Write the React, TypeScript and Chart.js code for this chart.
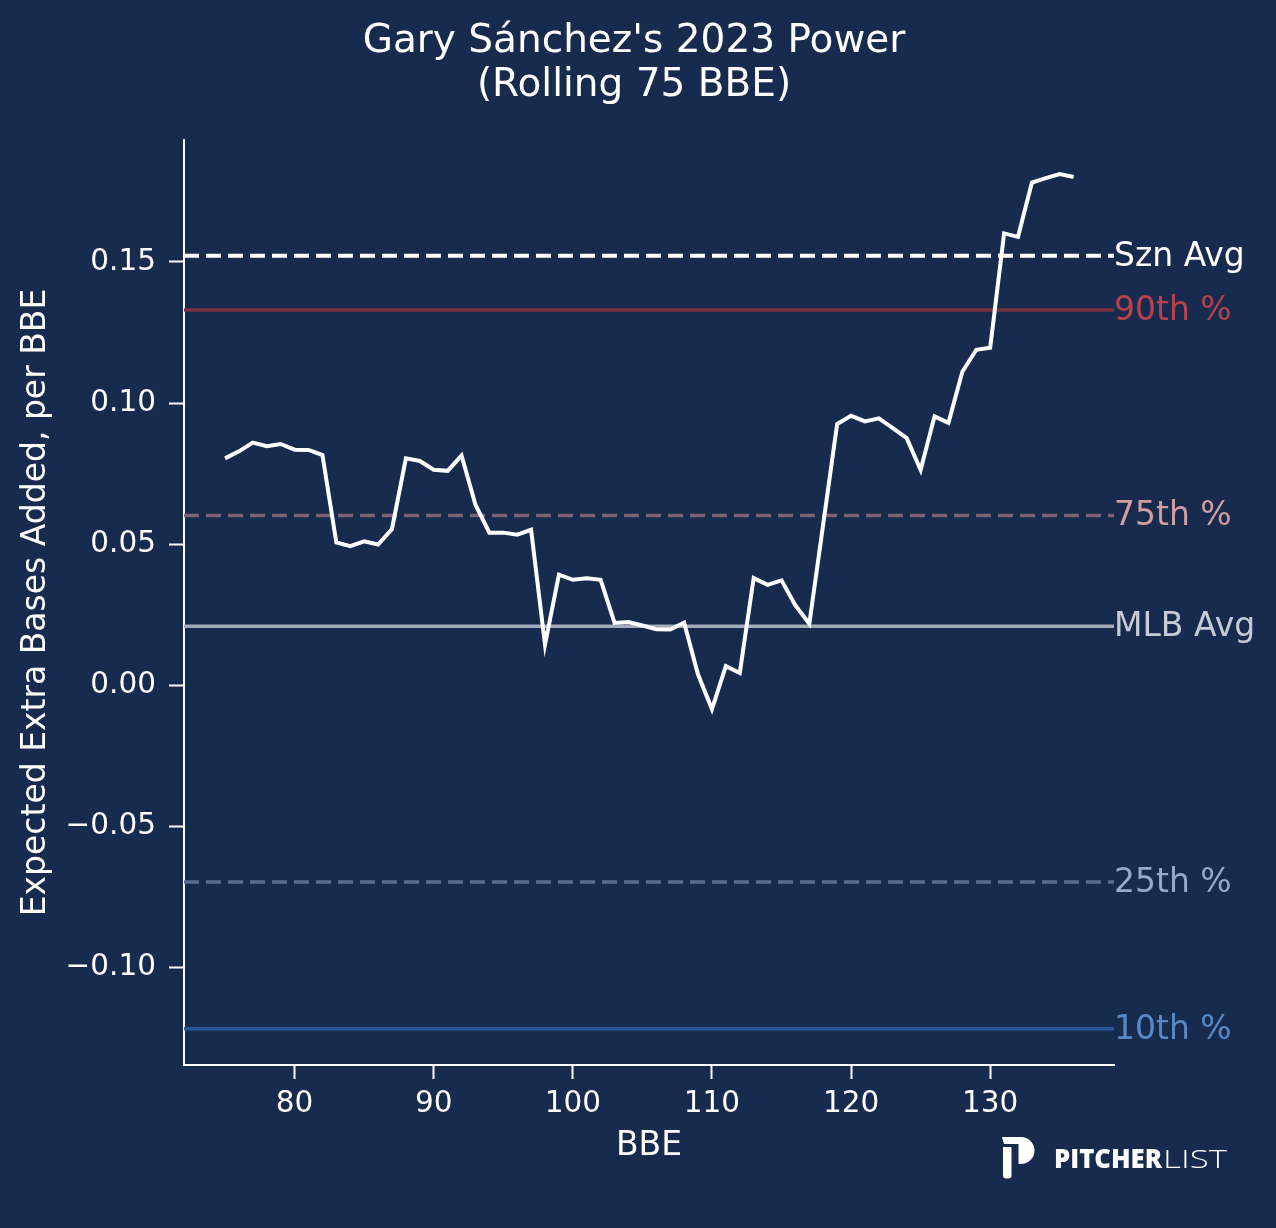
import React, { useEffect, useRef } from 'react';
import Chart from 'chart.js/auto';

const BG = '#172b4f';
const FONT = '"DejaVu Sans", sans-serif';

const titleLines = ["Gary Sánchez's 2023 Power", '(Rolling 75 BBE)'];
const xTitle = 'BBE';
const yTitle = 'Expected Extra Bases Added, per BBE';

const bbe = [
  75, 76, 77, 78, 79, 80, 81, 82, 83, 84, 85, 86, 87, 88, 89, 90, 91, 92, 93, 94, 95,
  96, 97, 98, 99, 100, 101, 102, 103, 104, 105, 106, 107, 108, 109, 110, 111, 112,
  113, 114, 115, 116, 117, 118, 119, 120, 121, 122, 123, 124, 125, 126, 127, 128,
  129, 130, 131, 132, 133, 134, 135, 136,
];
const xeba = [
  0.0804, 0.0829, 0.086, 0.0847, 0.0855, 0.0835, 0.0834, 0.0816, 0.0506, 0.0493, 0.051,
  0.0499, 0.0554, 0.0804, 0.0795, 0.0764, 0.076, 0.0814, 0.064, 0.0541, 0.0541, 0.0534,
  0.0551, 0.0144, 0.0392, 0.0374, 0.0379, 0.0374, 0.0221, 0.0224, 0.0212, 0.0199, 0.0198,
  0.0222, 0.0038, -0.0084, 0.0068, 0.0044, 0.038, 0.0356, 0.0372, 0.0283, 0.0218, 0.0572,
  0.0926, 0.0955, 0.0935, 0.0946, 0.0911, 0.0876, 0.0763, 0.0953, 0.093, 0.1111, 0.1189,
  0.1196, 0.1601, 0.1589, 0.1781, 0.1797, 0.1811, 0.1801,
];

const refLabels = ['Szn Avg', '90th %', '75th %', 'MLB Avg', '25th %', '10th %'];
const refValues = [0.1522, 0.133, 0.0602, 0.0209, -0.0697, -0.1217];
const refLineColors = ['#ffffff', '#7b3243', '#7d6273', '#a4aab7', '#5a6d90', '#2a5597'];
const refTextColors = ['#ffffff', '#b8414b', '#d39c9e', '#c6ccd7', '#98a9c7', '#5b88c3'];
const refDashed = [true, false, true, false, true, false];
const refWidths = [4, 3.5, 3.5, 3.5, 3.5, 3.5];

const xTicks = [80, 90, 100, 110, 120, 130];
const yTicks = [-0.1, -0.05, 0, 0.05, 0.1, 0.15];
const xRange = [72.05, 138.9];
const yRange = [-0.1345, 0.1932];

const fmtY = (v: number) => (v < 0 ? '\u2212' : '') + Math.abs(v).toFixed(2);

const decorPlugin = {
  id: 'decor',
  beforeDraw(chart: any) {
    const { ctx, width, height } = chart;
    ctx.save();
    ctx.fillStyle = BG;
    ctx.fillRect(0, 0, width, height);
    ctx.restore();
  },
  afterDraw(chart: any) {
    const { ctx, chartArea } = chart;
    const ys = chart.scales.y;
    ctx.save();
    // title
    ctx.fillStyle = '#ffffff';
    ctx.font = `39px ${FONT}`;
    ctx.textAlign = 'center';
    ctx.textBaseline = 'alphabetic';
    ctx.fillText(titleLines[0], 634, 52);
    ctx.fillText(titleLines[1], 634, 96);
    // reference labels
    ctx.font = `33px ${FONT}`;
    ctx.textAlign = 'left';
    refLabels.forEach((lab, i) => {
      ctx.fillStyle = refTextColors[i];
      ctx.fillText(lab, chartArea.right, ys.getPixelForValue(refValues[i]) + 10);
    });
    // logo icon
    ctx.fillStyle = '#ffffff';
    ctx.beginPath();
    ctx.moveTo(1002, 1137);
    ctx.lineTo(1021, 1137);
    ctx.arc(1021, 1150.5, 13.5, -Math.PI / 2, Math.PI / 2);
    ctx.lineTo(1018.5, 1164);
    ctx.lineTo(1018.5, 1144);
    ctx.lineTo(1004, 1144);
    ctx.closePath();
    ctx.fill();
    ctx.beginPath();
    (ctx as any).roundRect(1003, 1147, 8.5, 31.5, [0, 0, 3, 3]);
    ctx.fill();
    // logo text
    ctx.textBaseline = 'alphabetic';
    ctx.font = `800 26px "Open Sans", sans-serif`;
    const w1 = ctx.measureText('PITCHER').width;
    ctx.save();
    ctx.translate(1054, 1168);
    ctx.scale(108 / w1, 1);
    ctx.fillText('PITCHER', 0, 0);
    ctx.restore();
    ctx.font = `300 26px "Open Sans", sans-serif`;
    const w2 = ctx.measureText('LIST').width;
    ctx.save();
    ctx.translate(1163, 1168);
    ctx.scale(64 / w2, 1);
    ctx.fillText('LIST', 0, 0);
    ctx.restore();
    ctx.restore();
  },
};

export default function App() {
  const ref = useRef<HTMLCanvasElement | null>(null);
  useEffect(() => {
    document.body.style.margin = '0';
    document.body.style.background = BG;
    const refSets = refValues.map((v, i) => ({
      label: refLabels[i],
      data: [
        { x: xRange[0], y: v },
        { x: xRange[1], y: v },
      ],
      borderColor: refLineColors[i],
      borderWidth: refWidths[i],
      borderDash: refDashed[i] ? [15, 7] : [],
      pointRadius: 0,
      fill: false,
    }));
    const chart = new Chart(ref.current as HTMLCanvasElement, {
      type: 'line',
      data: {
        datasets: [
          {
            label: 'xEBA',
            data: bbe.map((x, i) => ({ x, y: xeba[i] })),
            borderColor: '#ffffff',
            borderWidth: 4,
            pointRadius: 0,
            fill: false,
            tension: 0,
          },
          ...refSets,
        ] as any,
      },
      options: {
        animation: false,
        responsive: false,
        devicePixelRatio: 1,
        events: [],
        layout: { padding: { left: 0, top: 140, right: 162, bottom: 0 } },
        plugins: { legend: { display: false }, tooltip: { enabled: false }, title: { display: false } },
        scales: {
          x: {
            type: 'linear',
            min: xRange[0],
            max: xRange[1],
            afterBuildTicks: (s: any) => {
              s.ticks = xTicks.map((v) => ({ value: v }));
            },
            afterFit: (s: any) => {
              s.height = 163;
            },
            ticks: {
              color: '#ffffff',
              font: { size: 29.5, family: FONT },
              padding: 8,
              maxRotation: 0,
              autoSkip: false,
              callback: (v: any) => String(v),
            },
            grid: { display: true, drawOnChartArea: false, drawTicks: true, tickLength: 14, tickWidth: 2, tickColor: '#ffffff' },
            border: { display: true, color: '#ffffff', width: 2 },
            title: { display: true, text: xTitle, color: '#ffffff', font: { size: 33, family: FONT }, padding: { top: 0, bottom: 62 } },
          },
          y: {
            type: 'linear',
            min: yRange[0],
            max: yRange[1],
            afterBuildTicks: (s: any) => {
              s.ticks = yTicks.map((v) => ({ value: v }));
            },
            afterFit: (s: any) => {
              s.width = 184;
            },
            ticks: {
              color: '#ffffff',
              font: { size: 29.5, family: FONT },
              padding: 13,
              autoSkip: false,
              callback: (v: any) => fmtY(v),
            },
            grid: { display: true, drawOnChartArea: false, drawTicks: true, tickLength: 15, tickWidth: 2, tickColor: '#ffffff' },
            border: { display: true, color: '#ffffff', width: 2 },
            title: { display: true, text: yTitle, color: '#ffffff', font: { size: 33, family: FONT }, padding: { top: 17, bottom: 0 } },
          },
        },
      } as any,
      plugins: [decorPlugin],
    });
    return () => chart.destroy();
  }, []);
  return (
    <div style={{ width: 1276, height: 1228, background: BG }}>
      <canvas ref={ref} width={1276} height={1228} style={{ display: 'block', width: 1276, height: 1228 }} />
    </div>
  );
}
